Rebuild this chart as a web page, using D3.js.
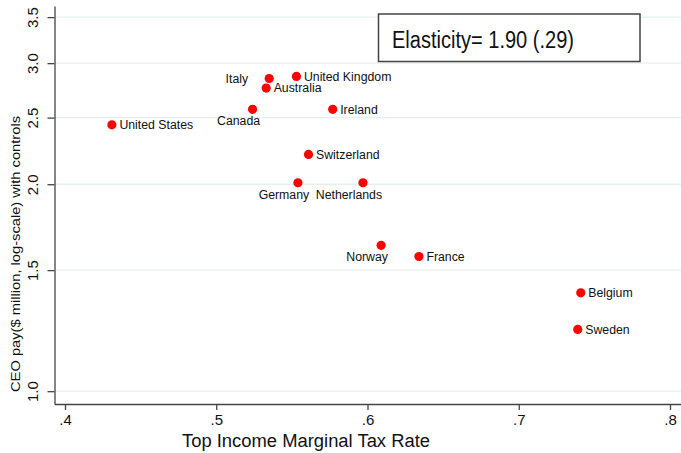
<!DOCTYPE html>
<html>
<head>
<meta charset="utf-8">
<script src="https://cdn.jsdelivr.net/npm/d3@7"></script>
<style>
  body { margin: 0; background: #fff; }
  svg { display: block; font-family: "Liberation Sans", Arial, sans-serif; }
  .axis path, .axis line { stroke: #444; stroke-width: 1.3; }
  .axis text { fill: #111; font-size: 15px; }
  .lbl { font-size: 12.3px; fill: #111; }
</style>
</head>
<body>
<div id="chart"></div>
<script>
//Data
var countries = ["United States", "Canada", "Italy", "Australia", "United Kingdom", "Ireland",
                 "Switzerland", "Germany", "Netherlands", "Norway", "France", "Belgium", "Sweden"];
var taxRate = [0.431, 0.524, 0.535, 0.533, 0.553, 0.577, 0.561, 0.554, 0.597, 0.609, 0.634, 0.741, 0.739];
var ceoPay  = [2.44, 2.57, 2.85, 2.76, 2.87, 2.57, 2.21, 2.01, 2.01, 1.63, 1.57, 1.39, 1.23];
var xTicks = [0.4, 0.5, 0.6, 0.7, 0.8];
var yTicks = [1.0, 1.5, 2.0, 2.5, 3.0, 3.5];
var elasticityText = "Elasticity= 1.90 (.29)";

// marker label clock position (like stata mlabvpos)
var labelClock = {"Italy": 9, "Canada": 6, "Germany": 6, "Netherlands": 6, "Norway": 6};

var W = 681, H = 453;
var margin = {top: 6, right: 0, bottom: 49, left: 54.5};

var svg = d3.select("#chart").append("svg")
    .attr("width", W)
    .attr("height", H);

var x = d3.scaleLinear()
    .domain([0.39306, 0.80727])
    .range([margin.left, W - margin.right]);
var y = d3.scaleLog()
    .domain([0.958, 3.633])
    .range([H - margin.bottom, margin.top]);

//gridlines
svg.append("g")
    .selectAll("line")
    .data(yTicks)
    .enter().append("line")
    .attr("x1", margin.left)
    .attr("x2", W)
    .attr("y1", function(d){ return y(d); })
    .attr("y2", function(d){ return y(d); })
    .attr("stroke", "#e6efef")
    .attr("stroke-width", 1.3);

//x axis
var xAxis = d3.axisBottom(x)
    .tickValues(xTicks)
    .tickSizeOuter(0)
    .tickSizeInner(6)
    .tickPadding(4)
    .tickFormat(function(d){ return d3.format(".1f")(d).replace(/^0/, ""); });
svg.append("g")
    .attr("class", "x axis")
    .attr("transform", "translate(0," + (H - margin.bottom) + ")")
    .call(xAxis);

//y axis, labels turned
var yAxis = d3.axisLeft(y)
    .tickValues(yTicks)
    .tickSizeOuter(0)
    .tickSizeInner(7)
    .tickFormat(d3.format(".1f"));
var gy = svg.append("g")
    .attr("class", "y axis")
    .attr("transform", "translate(" + margin.left + ",0)")
    .call(yAxis);
gy.selectAll(".tick text")
    .attr("transform", "rotate(-90)")
    .attr("x", 0)
    .attr("y", -17)
    .attr("dy", 0)
    .style("text-anchor", "middle");

//axis titles
svg.append("text")
    .attr("x", 182)
    .attr("y", 447)
    .attr("textLength", 248)
    .attr("lengthAdjust", "spacingAndGlyphs")
    .style("font-size", "18px")
    .style("fill", "#111")
    .text("Top Income Marginal Tax Rate");

svg.append("text")
    .attr("transform", "translate(20,392) rotate(-90)")
    .attr("textLength", 276)
    .attr("lengthAdjust", "spacingAndGlyphs")
    .style("font-size", "13px")
    .style("fill", "#111")
    .text("CEO pay($ million, log-scale) with controls");

//points
var pts = countries.map(function(c, i){ return {name: c, tax: taxRate[i], pay: ceoPay[i]}; });

svg.append("g")
    .selectAll("circle")
    .data(pts)
    .enter().append("circle")
    .attr("cx", function(d){ return x(d.tax); })
    .attr("cy", function(d){ return y(d.pay); })
    .attr("r", 4.6)
    .attr("fill", "#ff0000");

svg.append("g")
    .selectAll("text")
    .data(pts)
    .enter().append("text")
    .attr("class", "lbl")
    .attr("x", function(d){
        var pos = labelClock[d.name] || 3;
        if (pos == 9) return x(d.tax) - 21;
        if (pos == 6) return x(d.tax) - 14;
        return x(d.tax) + 7.5;
    })
    .attr("y", function(d){
        var pos = labelClock[d.name] || 3;
        if (pos == 6) return y(d.pay) + 16;
        return y(d.pay) + 4.3;
    })
    .style("text-anchor", function(d){
        var pos = labelClock[d.name] || 3;
        if (pos == 9) return "end";
        if (pos == 6) return "middle";
        return "start";
    })
    .text(function(d){ return d.name; });

//elasticity box
svg.append("rect")
    .attr("x", 378.5)
    .attr("y", 14)
    .attr("width", 261.5)
    .attr("height", 47.5)
    .attr("fill", "#fff")
    .attr("stroke", "#444")
    .attr("stroke-width", 1.5);
svg.append("text")
    .attr("x", 392)
    .attr("y", 47.5)
    .attr("textLength", 182)
    .attr("lengthAdjust", "spacingAndGlyphs")
    .style("font-size", "23.5px")
    .style("fill", "#111")
    .text(elasticityText);
</script>
</body>
</html>
